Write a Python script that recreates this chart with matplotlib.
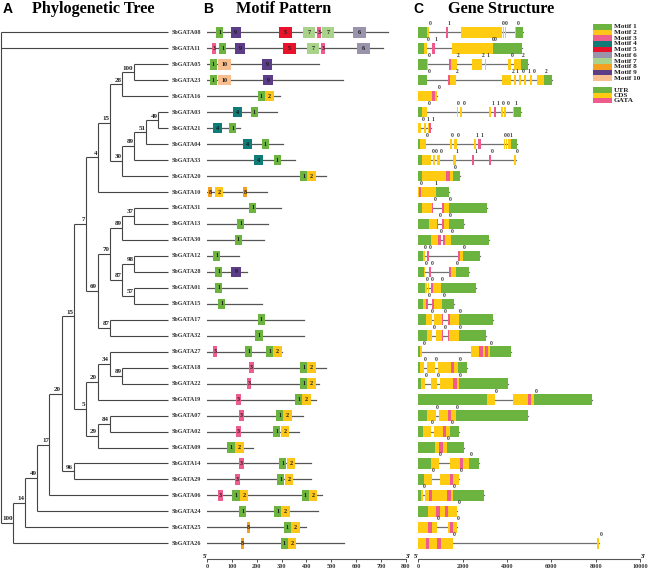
import matplotlib
matplotlib.use('Agg')
import matplotlib.pyplot as plt
from matplotlib.patches import Rectangle

# ---------------- data ----------------
# tree topology: (node, bootstrap, children)
TREE = [
    ("root", None, ["SbGATA08", "SbGATA11", "n100"]),
    ("n100", 100, ["n14", "SbGATA26"]),
    ("n14", 14, ["n49", "SbGATA25"]),
    ("n49", 49, ["n17", "SbGATA24"]),
    ("n17", 17, ["n20a", "SbGATA06"]),
    ("n20a", 20, ["n15", "n96"]),
    ("n96", 96, ["SbGATA14", "SbGATA29"]),
    ("n15", 15, ["n7", "n5"]),
    ("n7", 7, ["n4", "n69"]),
    ("n4", 4, ["n15b", "SbGATA10"]),
    ("n15b", 15, ["n28", "n30"]),
    ("n28", 28, ["n100b", "SbGATA16"]),
    ("n100b", 100, ["SbGATA05", "SbGATA23"]),
    ("n30", 30, ["n89a", "SbGATA20"]),
    ("n89a", 89, ["n51", "SbGATA33"]),
    ("n51", 51, ["n49b", "SbGATA04"]),
    ("n49b", 49, ["SbGATA03", "SbGATA21"]),
    ("n69", 69, ["n70", "n87a"]),
    ("n70", 70, ["n89b", "n87b"]),
    ("n89b", 89, ["n37", "SbGATA30"]),
    ("n37", 37, ["SbGATA31", "SbGATA13"]),
    ("n87b", 87, ["n98", "n57"]),
    ("n98", 98, ["SbGATA12", "SbGATA28"]),
    ("n57", 57, ["SbGATA01", "SbGATA15"]),
    ("n87a", 87, ["SbGATA17", "SbGATA32"]),
    ("n5", 5, ["n20b", "n29"]),
    ("n20b", 20, ["n34", "SbGATA19"]),
    ("n34", 34, ["SbGATA27", "n89c"]),
    ("n89c", 89, ["SbGATA18", "SbGATA22"]),
    ("n29", 29, ["n84", "SbGATA09"]),
    ("n84", 84, ["SbGATA07", "SbGATA02"]),
]

# protein lengths (aa)
PROT_LEN = {
    "SbGATA08": 730, "SbGATA11": 707, "SbGATA05": 450, "SbGATA23": 546, "SbGATA16": 293,
    "SbGATA03": 280, "SbGATA21": 132, "SbGATA04": 304, "SbGATA33": 354, "SbGATA20": 477,
    "SbGATA10": 240, "SbGATA31": 298, "SbGATA13": 246, "SbGATA30": 230, "SbGATA12": 127,
    "SbGATA28": 159, "SbGATA01": 159, "SbGATA15": 219, "SbGATA17": 390, "SbGATA32": 390,
    "SbGATA27": 300, "SbGATA18": 479, "SbGATA22": 452, "SbGATA19": 437, "SbGATA07": 387,
    "SbGATA02": 370, "SbGATA09": 186, "SbGATA14": 417, "SbGATA29": 417, "SbGATA06": 461,
    "SbGATA24": 445, "SbGATA25": 398, "SbGATA26": 551,
}

# motif (id, start aa)
MOTIFS = {
    "SbGATA08": [(1, 35), (9, 94), (5, 290), (7, 387), (3, 441), (7, 464), (6, 589)],
    "SbGATA11": [(3, 18), (1, 48), (9, 112), (5, 306), (7, 403), (3, 458), (6, 605)],
    "SbGATA05": [(1, 10), (10, 44), (9, 222)],
    "SbGATA23": [(1, 10), (10, 44), (9, 226)],
    "SbGATA16": [(1, 203), (2, 233)],
    "SbGATA03": [(4, 102), (1, 176)],
    "SbGATA21": [(4, 24), (1, 88)],
    "SbGATA04": [(4, 143), (1, 220)],
    "SbGATA33": [(4, 188), (1, 268)],
    "SbGATA20": [(1, 375), (2, 403)],
    "SbGATA10": [(8, 3), (2, 31), (8, 145)],
    "SbGATA31": [(1, 169)],
    "SbGATA13": [(1, 121)],
    "SbGATA30": [(1, 110)],
    "SbGATA12": [(1, 24)],
    "SbGATA28": [(1, 31), (9, 96)],
    "SbGATA01": [(1, 31)],
    "SbGATA15": [(1, 43)],
    "SbGATA17": [(1, 203)],
    "SbGATA32": [(1, 194)],
    "SbGATA27": [(3, 22), (1, 152), (1, 237), (2, 266)],
    "SbGATA18": [(3, 169), (1, 374), (2, 403)],
    "SbGATA22": [(3, 160), (1, 374), (2, 403)],
    "SbGATA19": [(3, 116), (1, 354), (2, 383)],
    "SbGATA07": [(3, 128), (1, 277), (2, 306)],
    "SbGATA02": [(3, 116), (1, 266), (2, 296)],
    "SbGATA09": [(1, 81), (2, 112)],
    "SbGATA14": [(3, 128), (1, 290), (2, 320)],
    "SbGATA29": [(3, 112), (1, 282), (2, 312)],
    "SbGATA06": [(3, 44), (1, 101), (2, 131), (1, 381), (2, 410)],
    "SbGATA24": [(1, 128), (1, 269), (2, 298)],
    "SbGATA25": [(8, 159), (1, 309), (2, 339)],
    "SbGATA26": [(8, 135), (1, 296), (2, 325)],
}
MOTIF_WIDTH = {1: 29, 2: 34, 3: 18, 4: 36, 5: 50, 6: 50, 7: 47, 8: 15, 9: 40, 10: 50}

# gene structure: exons (start, end, kind) kind U=UTR, C=CDS
EXONS = {
    "SbGATA08": [(0, 405, 'U'), (405, 482, 'C'), (1233, 1353, 'C'), (1909, 3786, 'C'), (3830, 3870, 'C'),
                 (3890, 3930, 'C'), (4357, 4417, 'C'), (4417, 4733, 'U')],
    "SbGATA11": [(0, 257, 'U'), (257, 377, 'C'), (632, 752, 'C'), (1503, 3380, 'C'), (3380, 4690, 'U')],
    "SbGATA05": [(0, 377, 'U'), (377, 422, 'C'), (1368, 1729, 'C'), (2435, 2870, 'C'), (2990, 3065, 'C'),
                 (4042, 4162, 'C'), (4312, 4642, 'C'), (4642, 4958, 'U')],
    "SbGATA23": [(0, 377, 'U'), (377, 407, 'C'), (1338, 1683, 'C'), (3756, 4162, 'C'), (4312, 4387, 'C'),
                 (4552, 4642, 'C'), (4762, 4852, 'C'), (5018, 5108, 'C'), (5333, 5664, 'C'), (5664, 6009, 'U')],
    "SbGATA16": [(0, 860, 'C')],
    "SbGATA03": [(0, 182, 'U'), (182, 407, 'C'), (1729, 1804, 'C'), (1879, 1969, 'C'), (3170, 3261, 'C'),
                 (3411, 3501, 'C'), (3741, 3801, 'C'), (3861, 3951, 'C'), (4252, 4312, 'C'), (4312, 4642, 'U')],
    "SbGATA21": [(0, 140, 'C'), (240, 360, 'C'), (440, 560, 'C')],
    "SbGATA04": [(0, 61, 'U'), (61, 362, 'C'), (1413, 1503, 'C'), (1608, 1729, 'C'), (2495, 2600, 'C'),
                 (2705, 2810, 'C'), (3846, 3906, 'C'), (3951, 4012, 'C'), (4057, 4162, 'C'), (4162, 4432, 'U')],
    "SbGATA33": [(0, 150, 'U'), (150, 560, 'C'), (660, 750, 'C'), (850, 975, 'C'), (1578, 1683, 'C'),
                 (2435, 2515, 'C'), (3200, 3276, 'C'), (4312, 4387, 'C')],
    "SbGATA20": [(0, 150, 'U'), (150, 1580, 'C'), (1580, 1870, 'U')],
    "SbGATA10": [(0, 780, 'C'), (780, 1390, 'U')],
    "SbGATA31": [(0, 150, 'U'), (150, 680, 'C'), (1060, 1390, 'C'), (1390, 3080, 'U')],
    "SbGATA13": [(0, 480, 'U'), (480, 890, 'C'), (1070, 1390, 'C'), (1390, 2050, 'U')],
    "SbGATA30": [(0, 570, 'U'), (570, 1010, 'C'), (1130, 1460, 'C'), (1460, 3180, 'U')],
    "SbGATA12": [(0, 230, 'U'), (230, 300, 'C'), (380, 460, 'C'), (1770, 2000, 'C'), (2000, 2780, 'U')],
    "SbGATA28": [(0, 260, 'U'), (260, 310, 'C'), (490, 570, 'C'), (1380, 1690, 'C'), (1690, 2300, 'U')],
    "SbGATA01": [(0, 300, 'U'), (300, 370, 'C'), (440, 480, 'C'), (560, 1010, 'C'), (1010, 2580, 'U')],
    "SbGATA15": [(0, 230, 'U'), (230, 420, 'C'), (600, 1080, 'C'), (1080, 1620, 'U')],
    "SbGATA17": [(0, 350, 'U'), (350, 600, 'C'), (710, 1130, 'C'), (1350, 1850, 'C'), (1850, 3380, 'U')],
    "SbGATA32": [(0, 377, 'U'), (377, 632, 'C'), (782, 1130, 'C'), (1323, 1849, 'C'), (1849, 3050, 'U')],
    "SbGATA27": [(0, 80, 'U'), (80, 180, 'C'), (2370, 3230, 'C'), (3230, 4180, 'U')],
    "SbGATA18": [(0, 77, 'U'), (77, 257, 'C'), (407, 752, 'C'), (903, 1804, 'C'), (1804, 2210, 'U')],
    "SbGATA22": [(0, 107, 'U'), (107, 302, 'C'), (557, 828, 'C'), (978, 1834, 'C'), (1834, 4057, 'U')],
    "SbGATA19": [(0, 3111, 'U'), (3111, 3456, 'C'), (4252, 5213, 'C'), (5213, 7842, 'U')],
    "SbGATA07": [(0, 407, 'U'), (407, 798, 'C'), (948, 1699, 'C'), (1699, 4928, 'U')],
    "SbGATA02": [(0, 227, 'U'), (227, 557, 'C'), (707, 1428, 'C'), (1428, 1849, 'U')],
    "SbGATA09": [(0, 752, 'U'), (752, 1278, 'C'), (1278, 2074, 'U')],
    "SbGATA14": [(0, 557, 'U'), (557, 933, 'C'), (1428, 2300, 'C'), (2300, 2750, 'U')],
    "SbGATA29": [(0, 272, 'U'), (272, 602, 'C'), (978, 1849, 'C')],
    "SbGATA06": [(0, 107, 'U'), (107, 197, 'C'), (302, 1548, 'C'), (1548, 2960, 'U')],
    "SbGATA24": [(0, 422, 'U'), (422, 1759, 'C')],
    "SbGATA25": [(0, 828, 'C'), (1353, 1729, 'C')],
    "SbGATA26": [(0, 1548, 'C'), (8067, 8157, 'C')],
}
GATA = {
    "SbGATA08": [(1233, 1353)], "SbGATA11": [(632, 752)], "SbGATA05": [(1368, 1458)],
    "SbGATA23": [(1338, 1428)], "SbGATA16": [(610, 760)], "SbGATA03": [(3411, 3501)],
    "SbGATA21": [(470, 560)], "SbGATA04": [(2705, 2810)], "SbGATA33": [(2435, 2515), (3200, 3276)],
    "SbGATA20": [(1240, 1410)], "SbGATA10": [(40, 140)], "SbGATA31": [(620, 680), (1060, 1150)],
    "SbGATA13": [(830, 890), (1070, 1160)], "SbGATA30": [(900, 1010), (1130, 1200)],
    "SbGATA12": [(380, 460), (1770, 1880)], "SbGATA28": [(490, 570), (1380, 1490)],
    "SbGATA01": [(560, 680)], "SbGATA15": [(340, 420), (600, 710)],
    "SbGATA17": [(1080, 1130), (1350, 1430)], "SbGATA32": [(1083, 1130), (1323, 1383)],
    "SbGATA27": [(2740, 2930), (3010, 3130)], "SbGATA18": [(1458, 1623)], "SbGATA22": [(1579, 1729)],
    "SbGATA19": [(4958, 5078)], "SbGATA07": [(1353, 1458)], "SbGATA02": [(1128, 1248)],
    "SbGATA09": [(948, 1098)], "SbGATA14": [(1879, 2029)], "SbGATA29": [(1428, 1579)],
    "SbGATA06": [(482, 632), (1308, 1458)], "SbGATA24": [(798, 978), (1203, 1353)],
    "SbGATA25": [(422, 602), (1428, 1548)], "SbGATA26": [(332, 497), (858, 1023)],
}
# intron phase labels (position bp, phase)
PHASES = {
    "SbGATA08": [(557, 0), (1383, 1), (3831, 0), (3951, 0), (4507, 0)],
    "SbGATA11": [(452, 0), (782, 1), (3351, 0), (3441, 0)],
    "SbGATA05": [(512, 0), (1789, 2), (2930, 2), (3155, 1), (4207, 0), (4717, 2)],
    "SbGATA23": [(482, 0), (1759, 2), (4252, 2), (4462, 1), (4717, 0), (4973, 1), (5228, 0), (5739, 2)],
    "SbGATA16": [(950, 0)],
    "SbGATA03": [(482, 0), (1804, 0), (2059, 0), (3351, 1), (3576, 1), (3831, 0), (4057, 0), (4402, 1)],
    "SbGATA21": [(210, 0), (420, 1), (647, 1)],
    "SbGATA04": [(422, 0), (1548, 0), (1789, 0), (2630, 1), (2870, 1), (3921, 0), (4042, 0), (4177, 1)],
    "SbGATA33": [(677, 0), (827, 0), (1038, 0), (1759, 1), (2600, 1), (3336, 0), (4462, 0)],
    "SbGATA20": [(1650, 0)],
    "SbGATA10": [(120, 0), (800, 1)],
    "SbGATA31": [(750, 0), (1450, 0)],
    "SbGATA13": [(970, 0), (1450, 0)],
    "SbGATA30": [(1053, 0), (1518, 0)],
    "SbGATA12": [(300, 0), (527, 0), (2074, 0)],
    "SbGATA28": [(347, 0), (647, 0), (1774, 0)],
    "SbGATA01": [(407, 0), (632, 0), (1083, 0)],
    "SbGATA15": [(497, 0), (1158, 0)],
    "SbGATA17": [(632, 0), (1203, 0), (1909, 0)],
    "SbGATA32": [(707, 0), (1233, 0), (1909, 0)],
    "SbGATA27": [(272, 0), (3276, 0)],
    "SbGATA18": [(302, 0), (797, 0), (1879, 0)],
    "SbGATA22": [(377, 0), (887, 0), (1909, 0)],
    "SbGATA19": [(3501, 0), (5288, 0)],
    "SbGATA07": [(858, 0), (1759, 0)],
    "SbGATA02": [(647, 0), (1518, 0)],
    "SbGATA09": [(1353, 0)],
    "SbGATA14": [(1008, 0), (2360, 0)],
    "SbGATA29": [(677, 0), (1924, 0)],
    "SbGATA06": [(257, 0), (1608, 0)],
    "SbGATA24": [(1834, 0)],
    "SbGATA25": [(903, 0), (1804, 0)],
    "SbGATA26": [(1623, 0), (8232, 0)],
}

MOTIF_IDS = [1, 2, 3, 4, 5, 6, 7, 8, 9, 10]
MOTIF_COLORS = ['#6DB33F', '#FFC61A', '#EE5E8C', '#0F7C78', '#E8132B',
                '#9A93AC', '#A9D38B', '#F4A020', '#5B3E87', '#F9BE8E']
STRUCT_NAMES = ['UTR', 'CDS', 'GATA']
STRUCT_COLORS = ['#6DB33F', '#FFCC11', '#EF5B8C']
MOTIF_TICKS = [0, 100, 200, 300, 400, 500, 600, 700, 800]
GENE_TICKS = [0, 2000, 4000, 6000, 8000, 10000]

# ---------------- layout ----------------
W, H = 649, 572
fig = plt.figure(figsize=(W / 100, H / 100), dpi=100)
SERIF = ['Liberation Serif', 'DejaVu Serif']
SANS = ['Liberation Sans', 'DejaVu Sans']
ROW0, ROWH, TOP, BOT = 32.3, 15.97, 20.0, 559.3
Y_TOP = (TOP - ROW0) / ROWH
Y_BOT = (BOT - ROW0) / ROWH
BOX_H = 0.66
LINE_C = '#444444'


def add_ax(x0, x1):
    ax = fig.add_axes([x0 / W, 1 - BOT / H, (x1 - x0) / W, (BOT - TOP) / H])
    ax.set_ylim(Y_BOT, Y_TOP)
    ax.patch.set_alpha(0)
    return ax


# ---------------- tree ----------------
children = {n: k for n, b, k in TREE}
boot = {n: b for n, b, k in TREE}
depth, ypos, order = {}, {}, []


def walk(n, d):
    depth[n] = d
    if n in children:
        for c in children[n]:
            walk(c, d + 1)
        ypos[n] = (ypos[children[n][0]] + ypos[children[n][-1]]) / 2
    else:
        ypos[n] = len(order)
        order.append(n)


walk("root", 0)
STEP = 12.07
TIP = (168 - 1) / STEP
axt = add_ax(0, 207)
axt.set_xlim(-1.2 / STEP, 205.8 / STEP)
axt.axis('off')
for n, b, kids in TREE:
    x = depth[n]
    axt.plot([x, x], [ypos[kids[0]], ypos[kids[-1]]], color=LINE_C, lw=0.8, solid_capstyle='butt')
    for c in kids:
        cx = depth[c] if c in children else TIP
        axt.plot([x, cx], [ypos[c], ypos[c]], color=LINE_C, lw=0.8, solid_capstyle='butt')
    if b is not None:
        axt.text(x - 0.05, ypos[n] - 0.1, str(b), ha='right', va='bottom',
                 fontsize=5, fontweight='bold', family=SERIF, color='#222222')
for g in order:
    axt.text(TIP + 0.27, ypos[g], g, ha='left', va='center', fontsize=4.4,
             fontweight='bold', family=SERIF, color='#333333')

# ---------------- motifs ----------------
axm = add_ax(207.3, 405.7)
axm.set_xlim(0, 800)
for g in order:
    y = ypos[g]
    axm.plot([0, PROT_LEN[g]], [y, y], color='#555555', lw=0.9, zorder=1)
    for mid, st in MOTIFS[g]:
        w = MOTIF_WIDTH[mid]
        axm.add_patch(Rectangle((st, y - BOX_H / 2), w, BOX_H, facecolor=MOTIF_COLORS[mid - 1],
                                edgecolor='none', zorder=2))
        axm.text(st + w / 2, y, str(mid), ha='center', va='center', fontsize=4.3,
                 fontweight='bold', family=SERIF, color='#1a1a1a', zorder=3)

# ---------------- gene structure ----------------
axg = add_ax(418.3, 640.3)
axg.set_xlim(0, 10000)
for g in order:
    y = ypos[g]
    ex = EXONS[g]
    axg.plot([ex[0][0], ex[-1][1]], [y, y], color='#707070', lw=0.9, zorder=1)
    for s, e, k in ex:
        col = STRUCT_COLORS[0] if k == 'U' else STRUCT_COLORS[1]
        axg.add_patch(Rectangle((s, y - BOX_H / 2), e - s, BOX_H, facecolor=col, edgecolor='none', zorder=2))
    for s, e in GATA[g]:
        axg.add_patch(Rectangle((s, y - BOX_H / 2), e - s, BOX_H, facecolor=STRUCT_COLORS[2],
                                edgecolor='none', zorder=3))
    for pos, ph in PHASES[g]:
        axg.text(pos, y - BOX_H / 2 - 0.05, str(ph), ha='center', va='bottom', fontsize=4,
                 fontweight='bold', family=SERIF, color='#333333')

# ---------------- bottom axes ----------------
for ax, ticks, xmax in ((axm, MOTIF_TICKS, 800), (axg, GENE_TICKS, 10000)):
    for s in ('top', 'right', 'left'):
        ax.spines[s].set_visible(False)
    ax.spines['bottom'].set_color('#555555')
    ax.spines['bottom'].set_linewidth(0.8)
    ax.set_yticks([])
    ax.set_xticks(ticks)
    ax.set_xticklabels([str(t) for t in ticks], fontsize=4.5, fontweight='bold', family=SERIF)
    ax.tick_params(axis='x', length=2.5, width=0.6, pad=1, colors='#333333')
    ax.text(0, Y_BOT - 0.05, "5'", ha='right', va='bottom', fontsize=4.5, fontweight='bold', family=SERIF)
    ax.text(xmax, Y_BOT - 0.05, "3'", ha='left', va='bottom', fontsize=4.5, fontweight='bold', family=SERIF)

# ---------------- overlay: titles & legend ----------------
ov = fig.add_axes([0, 0, 1, 1])
ov.set_xlim(0, W)
ov.set_ylim(H, 0)
ov.axis('off')
ov.patch.set_alpha(0)
for letter, lx, title, tx in (('A', 3, 'Phylogenetic Tree', 32),
                              ('B', 203, 'Motif Pattern', 236),
                              ('C', 413, 'Gene Structure', 448)):
    ov.text(lx, 12.8, letter, fontsize=10, fontweight='bold', family=SANS, va='baseline')
    ov.text(tx, 12.8, title, fontsize=11.7, fontweight='bold', family=SERIF, va='baseline')

LX, LW = 592.7, 19
MH = 5.73
for i, (mid, col) in enumerate(zip(MOTIF_IDS, MOTIF_COLORS)):
    yc = 26.7 + i * MH
    ov.add_patch(Rectangle((LX, yc - MH / 2), LW, MH, facecolor=col, edgecolor='none'))
    ov.text(LX + LW + 2, yc, f'Motif {mid}', fontsize=5.2, fontweight='bold', family=SERIF,
            va='center', ha='left', color='#222222')
SH = 5.35
for i, (nm, col) in enumerate(zip(STRUCT_NAMES, STRUCT_COLORS)):
    yc = 90 + i * SH
    ov.add_patch(Rectangle((LX, yc - SH / 2), LW, SH, facecolor=col, edgecolor='none'))
    ov.text(LX + LW + 2, yc, nm, fontsize=5.2, fontweight='bold', family=SERIF,
            va='center', ha='left', color='#222222')

fig.savefig('out.png', dpi=100)
